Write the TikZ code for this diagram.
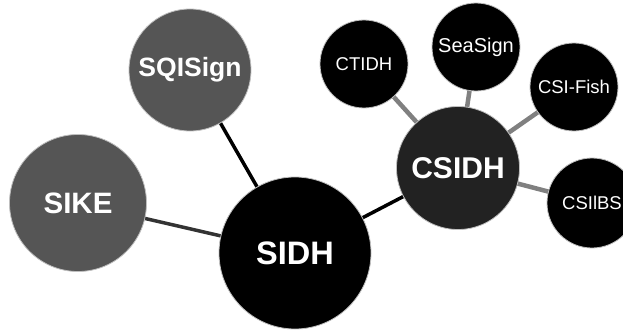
\documentclass[tikz,border=0pt]{standalone}
\usepackage{fontspec}
\setmainfont{Liberation Sans}
\usetikzlibrary{backgrounds}
\definecolor{midgray}{HTML}{555555}
\definecolor{darkfill}{HTML}{222222}
\definecolor{spokegray}{HTML}{808080}
\definecolor{linkgray}{HTML}{333333}
\tikzset{
  bubble/.style={circle, draw=black!25, line width=0.8pt, text=white, inner sep=0pt, align=center},
  big/.style={bubble, font=\bfseries\fontsize{32.5}{32.5}\selectfont},
  mid/.style={bubble, font=\bfseries\fontsize{29.5}{29.5}\selectfont},
  small/.style={bubble, fill=black, font=\fontsize{18.5}{18.5}\selectfont},
  mainlink/.style={line width=3.5pt},
  spoke/.style={draw=spokegray, line width=4.5pt}
}
\begin{document}
\begin{tikzpicture}[x=1pt, y=-1pt]
\useasboundingbox (0,0) rectangle (623,329);
% large nodes
\node[big, fill=black, minimum size=152pt] (sidh) at (295,253) {SIDH};
\node[mid, fill=midgray, minimum size=137pt] (sike) at (78,203) {SIKE};
\node[bubble, fill=midgray, minimum size=122pt, font=\bfseries\fontsize{26.5}{26.5}\selectfont] (sqi) at (190,70) {SQISign};
\node[mid, fill=darkfill, minimum size=123pt, font=\bfseries\fontsize{30}{30}\selectfont] (csidh) at (458,168) {CSIDH};
% small nodes around CSIDH
\node[small, minimum size=88pt] (ctidh) at (364,64) {CTIDH};
\node[small, minimum size=88pt, font=\fontsize{20}{20}\selectfont] (sea) at (476,47) {SeaSign};
\node[small, minimum size=88pt] (fish) at (574,87) {CSI-Fish};
\node[small, minimum size=90pt] (csilbs) at (592,203) {CSIlBS};
% connectors
\begin{scope}[on background layer]
\draw[mainlink] (sqi.center) -- (sidh.center);
\draw[mainlink, draw=linkgray] (sike.center) -- (sidh.center);
\draw[mainlink] (sidh.center) -- (csidh.center);
\draw[spoke] (csidh.center) -- (ctidh.center);
\draw[spoke] (csidh.center) -- (sea.center);
\draw[spoke] (csidh.center) -- (fish.center);
\draw[spoke] (csidh.center) -- (csilbs.center);
\end{scope}
\end{tikzpicture}
\end{document}
